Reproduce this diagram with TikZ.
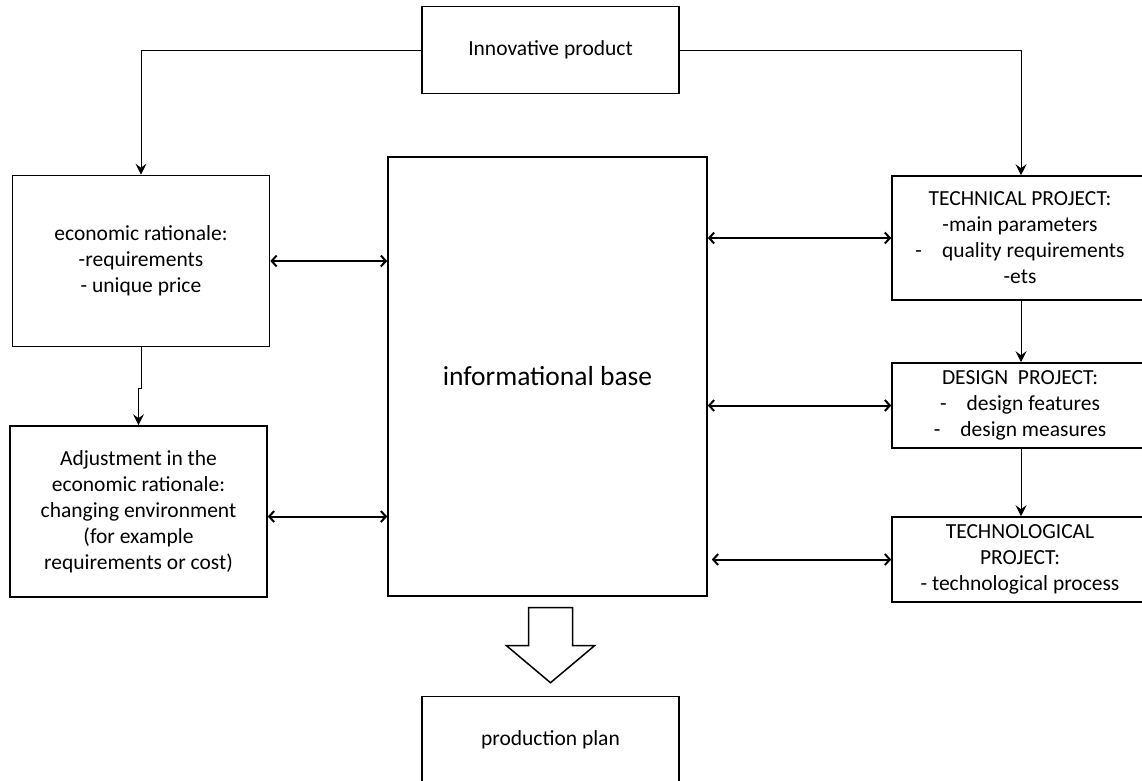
\documentclass[tikz,border=0pt]{standalone}
\usepackage{fontspec}
\setmainfont{Carlito}
\usetikzlibrary{shapes, arrows, arrows.meta}
\tikzstyle{block} = [rectangle, draw=black, line width=1.6pt, text centered, align=center, inner sep=0pt, font=\fontsize{21.5}{26}\selectfont]
\tikzstyle{wide} = [block, minimum width=257pt, minimum height=87pt]
\tikzstyle{tall} = [block, minimum width=257pt, minimum height=171pt]
\tikzstyle{project} = [block, minimum width=256pt, minimum height=85pt]
\tikzstyle{base} = [block, minimum width=319pt, minimum height=439pt, font=\fontsize{27.5}{32}\selectfont]
\tikzstyle{line} = [draw, line width=1pt, -{Stealth[length=11pt, width=11pt, inset=4pt]}]
\tikzstyle{both} = [draw, line width=2pt, {Straight Barb[length=5pt, width=11pt]}-{Straight Barb[length=5pt, width=11pt]}]
\tikzstyle{bigarrow} = [draw, line width=1.5pt]

\begin{document}
\begin{tikzpicture}[x=1pt, y=1pt, node distance=154pt]
  \useasboundingbox (0,0) rectangle (1142,-780);
  \clip (0,0) rectangle (1142,-780);
  %% nodes
  % top and middle
  \node [wide] (product) at (550.5,-50) {Innovative product};
  \node [base, below of=product, xshift=-3pt, yshift=-172.5pt] (info) {informational base};
  % left column
  \node [tall, left of=info, xshift=-252.5pt, yshift=115.5pt] (econ) {economic rationale:\\-requirements\\- unique price};
  \node [tall, below of=econ, xshift=-2.5pt, yshift=-96.5pt] (adjust) {Adjustment in the\\economic rationale:\\changing environment\\(for example\\requirements or cost)};
  % right column
  \node [project, minimum height=124pt, right of=info, xshift=318.5pt, yshift=138.5pt] (technical) {TECHNICAL PROJECT:\\-main parameters\\-\hspace{20pt}quality requirements\\-ets};
  \node [project, below of=technical, yshift=-13.5pt] (design) {DESIGN\ \ PROJECT:\\-\hspace{20pt}design features\\-\hspace{20pt}design measures};
  \node [project, below of=design] (technological) {TECHNOLOGICAL\\PROJECT:\\- technological process};
  % bottom
  \node [wide, below of=info, xshift=3pt, yshift=-209.5pt] (plan) {production plan};
  %% edges
  % product to both sides
  \path [line] (product.west) -| (econ.north);
  \path [line] (product.east) -| ([xshift=1pt]technical.north);
  \path [line] (econ.south) --++ (0,-41) -| (adjust.north);
  \path [line] ([xshift=1pt]technical.south) -- ([xshift=1pt]design.north);
  \path [line] ([xshift=1pt]design.south) -- ([xshift=1pt]technological.north);
  % exchange with the informational base
  \path [both] (econ.east) -- (econ.east -| info.west);
  \path [both] ([yshift=-5pt]adjust.east) -- ([yshift=-5pt]adjust.east -| info.west);
  \path [both] (info.east |- technical.west) -- (technical.west);
  \path [both] (info.east |- design.west) -- (design.west);
  \path [both] ([xshift=4pt]info.east |- technological.west) -- (technological.west);
  % big arrow to the plan
  \path [bigarrow] ([xshift=-22pt, yshift=88pt]plan.north) --++ (44,0) --++ (0,-38) --++ (22,0) --++ (-44,-37) --++ (-44,37) --++ (22,0) -- cycle;
\end{tikzpicture}
\end{document}
